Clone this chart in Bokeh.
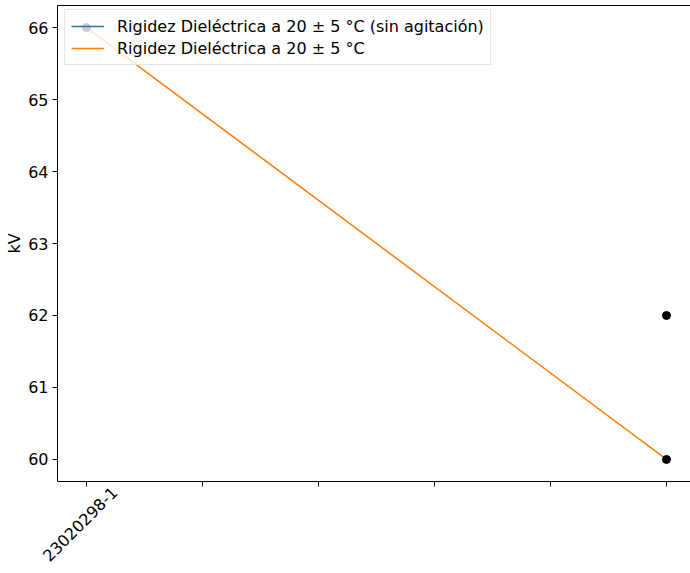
import math
from bokeh.plotting import figure
from bokeh.models import Range1d, FixedTicker, LinearAxis, Legend, LegendItem
from bokeh.embed import file_html
from bokeh.resources import INLINE

# ---- data ----
categories = ["23020298-1", "", "", "", "", ""]
cat_pos = [0, 1, 2, 3, 4, 5]
y_ticks = [60, 61, 62, 63, 64, 65, 66]

blue_x = [0]
blue_y = [66]
orange_x = [0, 5]
orange_y = [66, 60]
dots_x = [0, 5, 5]
dots_y = [66, 62, 60]

FONT = "DejaVu Sans"
FS = "16px"
X_LO, X_HI = -0.25, 5.207
LABEL_SHIFT = 0.24   # centres the rotated labels under their ticks

p = figure(width=690, height=573, output_backend="svg", toolbar_location=None,
           x_range=Range1d(X_LO, X_HI), y_range=Range1d(59.694, 66.306),
           min_border_left=57, min_border_right=0, min_border_top=5, min_border_bottom=92)
p.xgrid.visible = False
p.ygrid.visible = False
p.outline_line_color = None
p.background_fill_color = "white"
p.border_fill_color = "white"

blue = p.line(blue_x, blue_y, color="#1f77b4", line_width=1.5)
orange = p.line(orange_x, orange_y, color="#ff7f0e", line_width=1.5)
p.scatter(dots_x, dots_y, size=8, color="black")

# y axis
ya = p.yaxis[0]
ya.ticker = FixedTicker(ticks=y_ticks)
ya.axis_line_color = "black"
ya.major_tick_line_color = "black"
ya.major_tick_in = 0
ya.major_tick_out = 5
ya.minor_tick_line_color = None
ya.major_label_text_font = FONT
ya.major_label_text_font_size = FS
ya.major_label_text_color = "black"
ya.major_label_standoff = 4
ya.axis_label = "kV"
ya.axis_label_text_font = FONT
ya.axis_label_text_font_size = FS
ya.axis_label_text_font_style = "normal"
ya.axis_label_text_color = "black"
ya.axis_label_standoff = 1

# x axis: spine + ticks (ticks drawn as minor ticks, labels on a separate axis)
xa = p.xaxis[0]
xa.ticker = FixedTicker(ticks=[], minor_ticks=cat_pos)
xa.axis_line_color = "black"
xa.major_tick_line_color = None
xa.minor_tick_line_color = "black"
xa.minor_tick_in = 0
xa.minor_tick_out = 5
xa.major_label_standoff = 0

# x labels: rotated, on an axis whose range is shifted so they sit centred under ticks
p.extra_x_ranges = {"lab": Range1d(X_LO - LABEL_SHIFT, X_HI - LABEL_SHIFT)}
lab_ticks = [pos for pos, c in zip(cat_pos, categories) if c]
la = LinearAxis(x_range_name="lab", ticker=FixedTicker(ticks=lab_ticks),
                major_label_overrides={pos: c for pos, c in zip(cat_pos, categories) if c},
                axis_line_color=None, major_tick_line_color=None, minor_tick_line_color=None,
                major_tick_out=0, major_tick_in=0, major_label_standoff=3,
                major_label_orientation=math.pi / 4, major_label_text_font=FONT,
                major_label_text_font_size=FS, major_label_text_color="black")
p.add_layout(la, "below")

# top spine
top = LinearAxis(ticker=FixedTicker(ticks=[]), major_tick_out=0, major_tick_in=0,
                 major_label_standoff=0, axis_line_color="black",
                 minor_tick_line_color=None, major_tick_line_color=None)
p.add_layout(top, "above")

legend = Legend(items=[
    LegendItem(label="Rigidez Dieléctrica a 20 ± 5 °C (sin agitación)", renderers=[blue]),
    LegendItem(label="Rigidez Dieléctrica a 20 ± 5 °C", renderers=[orange]),
], location=(7, 416))
legend.label_text_font = FONT
legend.label_text_font_size = FS
legend.label_text_color = "black"
legend.glyph_width = 33
legend.glyph_height = 20
legend.label_height = 20
legend.label_standoff = 13
legend.spacing = 2
legend.padding = 6
legend.margin = 0
legend.border_line_color = "#cccccc"
legend.background_fill_alpha = 0.8
p.add_layout(legend)

open("out.html", "w").write(file_html(p, INLINE))
